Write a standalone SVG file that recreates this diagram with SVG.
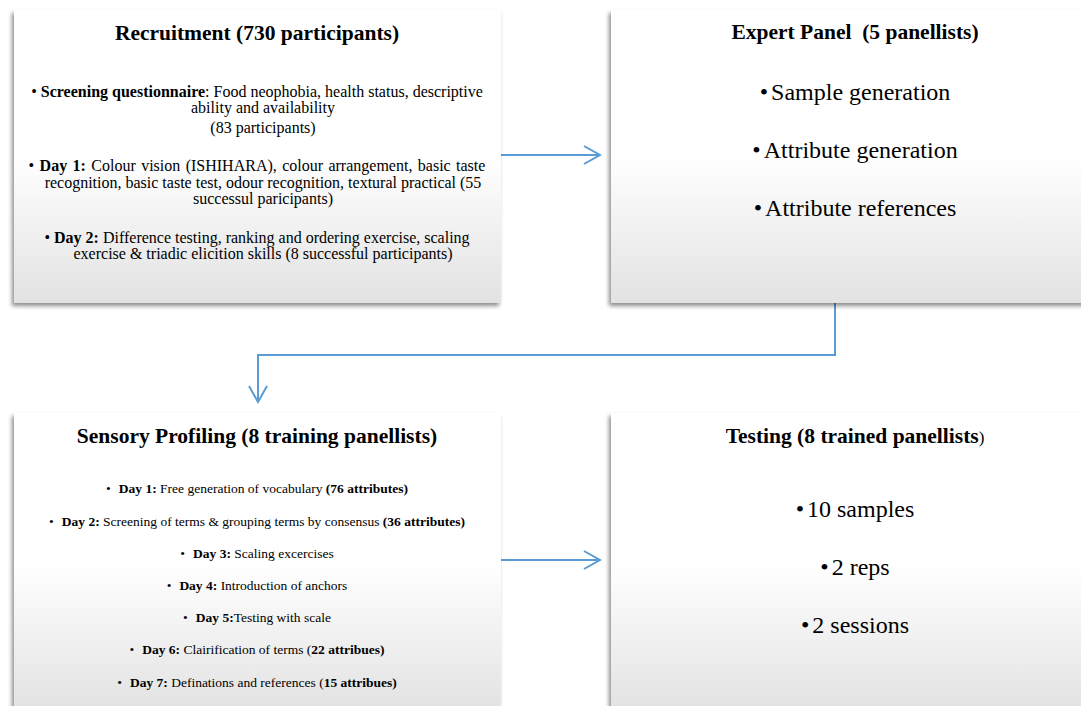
<svg xmlns="http://www.w3.org/2000/svg" width="1081" height="706" viewBox="0 0 1081 706">
<defs>
<linearGradient id="g" x1="0" y1="0" x2="0" y2="1">
<stop offset="0" stop-color="#ffffff"/>
<stop offset="0.5" stop-color="#ffffff"/>
<stop offset="1" stop-color="#e2e2e2"/>
</linearGradient>
<filter id="sh" x="-5%" y="-5%" width="110%" height="112%">
<feDropShadow dx="-2" dy="3" stdDeviation="2" flood-color="#000" flood-opacity="0.45"/>
</filter>
<marker id="ah" viewBox="0 0 20 20" refX="18" refY="10" markerWidth="20" markerHeight="20" markerUnits="userSpaceOnUse" orient="auto">
<path d="M2,1 L18,10 L2,19" fill="none" stroke="#5b9bd5" stroke-width="2"/>
</marker>
<style>
.box{fill:url(#g);filter:url(#sh);}
text{font-family:"Liberation Serif","Times New Roman",serif;fill:#000;}
.t{font-weight:bold;text-anchor:middle;font-size:21.5px;}
.s{font-size:16px;text-anchor:middle;}
.m{font-size:13.5px;text-anchor:middle;}
.l{font-size:24px;text-anchor:middle;}
.b{font-weight:bold;}
.c{fill:none;stroke:#5b9bd5;stroke-width:2;}
</style>
</defs>

<g id="connectors">
<line class="c" x1="501" y1="155" x2="600" y2="155" marker-end="url(#ah)"/>
<polyline class="c" points="835,303 835,355 258,355 258,402" marker-end="url(#ah)"/>
<line class="c" x1="501" y1="560" x2="600" y2="560" marker-end="url(#ah)"/>
</g>

<g id="recruitment">
<rect class="box" x="14" y="10" width="487" height="293"/>
<text class="t" x="257" y="40">Recruitment (730 participants)</text>
<text class="s" x="257" y="97">• <tspan class="b">Screening questionnaire</tspan>: Food neophobia, health status, descriptive</text>
<text class="s" x="263" y="113">ability and availability</text>
<text class="s" x="263" y="133">(83 participants)</text>
<text class="s" x="257" y="171" word-spacing="1.4">• <tspan class="b">Day 1:</tspan> Colour vision (ISHIHARA), colour arrangement, basic taste</text>
<text class="s" x="263" y="188">recognition, basic taste test, odour recognition, textural practical (55</text>
<text class="s" x="263" y="204">successul paricipants)</text>
<text class="s" x="257" y="243">• <tspan class="b">Day 2:</tspan> Difference testing, ranking and ordering exercise, scaling</text>
<text class="s" x="263" y="259">exercise &amp; triadic elicition skills (8 successful participants)</text>
</g>

<g id="expert-panel">
<rect class="box" x="611" y="10" width="490" height="293"/>
<text class="t" x="855" y="39" xml:space="preserve">Expert Panel  (5 panellists)</text>
<text class="l" x="855" y="100">•<tspan dx="3">Sample generation</tspan></text>
<text class="l" x="855" y="158">•<tspan dx="3">Attribute generation</tspan></text>
<text class="l" x="855" y="216">•<tspan dx="3">Attribute references</tspan></text>
</g>

<g id="sensory-profiling">
<rect class="box" x="14" y="413" width="487" height="300"/>
<text class="t" x="257" y="443">Sensory Profiling (8 training panellists)</text>
<text class="m" x="257" y="493">•<tspan class="b" dx="8">Day 1:</tspan> Free generation of vocabulary <tspan class="b">(76 attributes)</tspan></text>
<text class="m" x="257" y="526">•<tspan class="b" dx="8">Day 2:</tspan> Screening of terms &amp; grouping terms by consensus <tspan class="b">(36 attributes)</tspan></text>
<text class="m" x="257" y="558">•<tspan class="b" dx="8">Day 3:</tspan> Scaling excercises</text>
<text class="m" x="257" y="590">•<tspan class="b" dx="8">Day 4:</tspan> Introduction of anchors</text>
<text class="m" x="257" y="622">•<tspan class="b" dx="8">Day 5:</tspan>Testing with scale</text>
<text class="m" x="257" y="654">•<tspan class="b" dx="8">Day 6:</tspan> Clairification of terms (<tspan class="b">22 attribues)</tspan></text>
<text class="m" x="257" y="687">•<tspan class="b" dx="8">Day 7:</tspan> Definations and references (<tspan class="b">15 attribues)</tspan></text>
</g>

<g id="testing">
<rect class="box" x="611" y="413" width="490" height="300"/>
<text class="t" x="855" y="443">Testing (8 trained panellists<tspan font-weight="normal" font-size="17">)</tspan></text>
<text class="l" x="855" y="517">•<tspan dx="3">10 samples</tspan></text>
<text class="l" x="855" y="575">•<tspan dx="3">2 reps</tspan></text>
<text class="l" x="855" y="633">•<tspan dx="3">2 sessions</tspan></text>
</g>
</svg>
